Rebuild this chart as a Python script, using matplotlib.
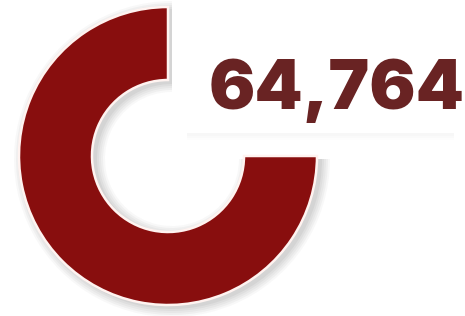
import matplotlib
matplotlib.use("Agg")
import matplotlib.pyplot as plt
from matplotlib.patches import Rectangle, Wedge

# data
shares = [75, 25]          # filled part of ring, empty part
value_label = "64,764"

W, H = 465, 316
fig = plt.figure(figsize=(W / 100, H / 100), dpi=100)
ax = fig.add_axes([0, 0, 1, 1])
ax.set_axis_off()

cx, cy = 168, H - 156
r_out, width = 149, 73
ring_color = "#880e0e"
text_color = "#692323"

# soft shadow behind ring
for i, a in enumerate([0.04, 0.05, 0.05, 0.06, 0.07]):
    grow = 9 - 2 * i
    ax.add_patch(Wedge((cx + 4, cy - 3), r_out + grow, 90, 360,
                       width=width + 2 * grow, facecolor="#555555",
                       edgecolor="none", alpha=a, zorder=1))

ax.pie(shares, colors=[ring_color, "none"], startangle=90, counterclock=True,
       radius=r_out, center=(cx, cy),
       wedgeprops=dict(width=width, edgecolor="none"))
# white rim on the filled wedge
ax.patches[-2].set_edgecolor("#fff3f0")
ax.patches[-2].set_linewidth(1.8)
ax.patches[-2].set_zorder(3)

# label box with faint shadow
bx0, bx1, by_top, by_bot = 185, 458, 0, 133
for i, a in enumerate([0.015, 0.02, 0.025]):
    ax.add_patch(Rectangle((bx0 + 2, H - by_bot - 7 + 2 * i), bx1 - bx0 - 6, 8,
                           facecolor="#888888", edgecolor="none", alpha=a, zorder=4))
ax.add_patch(Rectangle((bx0, H - by_bot), bx1 - bx0, by_bot - by_top,
                       facecolor="white", edgecolor="none", zorder=5))
ax.text(337, H - 109, value_label, color=text_color, fontsize=49.5,
        fontweight="black", family=["Inter", "DejaVu Sans"],
        ha="center", va="baseline", zorder=6)

ax.set_xlim(0, W)
ax.set_ylim(0, H)
ax.set_aspect("auto")
fig.savefig("out.png", dpi=100, facecolor="white")
